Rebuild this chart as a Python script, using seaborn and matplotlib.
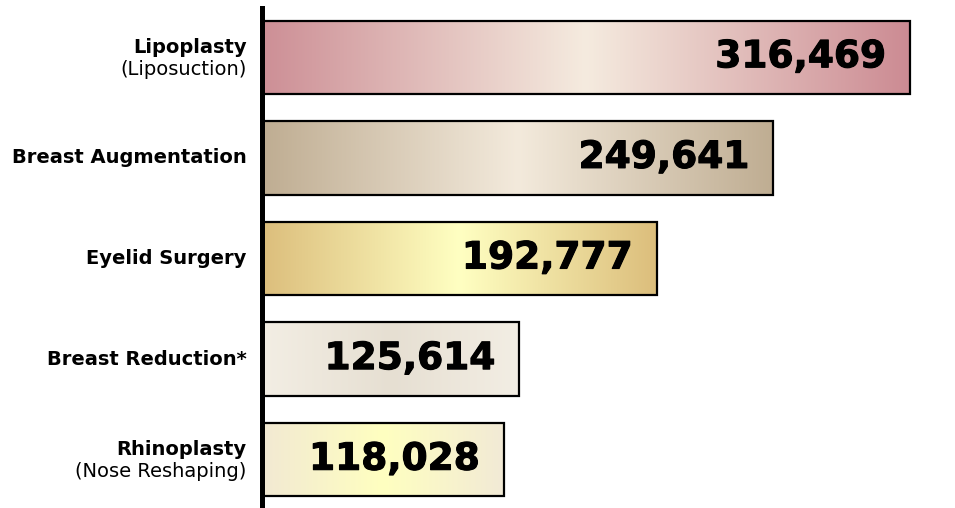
import numpy as np
import matplotlib
matplotlib.use("Agg")
import matplotlib.pyplot as plt
import matplotlib.patheffects as pe
from matplotlib.colors import LinearSegmentedColormap
import seaborn as sns

# ---------- dados ----------
procedures = ["Lipoplasty", "Breast Augmentation", "Eyelid Surgery",
              "Breast Reduction*", "Rhinoplasty"]
subtitles = ["(Liposuction)", "", "", "", "(Nose Reshaping)"]
counts = [316469, 249641, 192777, 125614, 118028]

# gradiente de cada barra: borda -> centro -> borda
bar_colors = [
    ("#cd8f96", "#f5ebdf", "#cc8b93"),
    ("#bfad92", "#f3eadc", "#bfad92"),
    ("#dcbe7c", "#ffffc2", "#dcbe7c"),
    ("#f3eee4", "#e6dfd2", "#f3eee4"),
    ("#f2e9d3", "#ffffc0", "#f2ead6"),
]

sns.set_style("white")
plt.rcParams['font.family'] = ['DejaVu Sans']
plt.rcParams['text.color'] = 'black'

fig = plt.figure(figsize=(9.55, 5.08), dpi=100)
ax = fig.add_axes([262 / 955, 0, 1 - 262 / 955, 500 / 508])

sns.barplot(x=counts, y=procedures, orient="h", color="white",
            edgecolor="black", linewidth=1.6, width=0.73, ax=ax)

xmax = 338500
ax.set_xlim(0, xmax)
ax.set_ylim(4.48, -0.49)

for patch, cols in zip(ax.patches, bar_colors):
    x0, y0 = patch.get_x(), patch.get_y()
    w, h = patch.get_width(), patch.get_height()
    cmap = LinearSegmentedColormap.from_list("g", list(cols))
    grad = np.linspace(0, 1, 256).reshape(1, -1)
    im = ax.imshow(grad, cmap=cmap, aspect="auto", interpolation="bilinear",
                   extent=(x0, x0 + w, y0 + h, y0), zorder=1)
    im.set_clip_path(patch)
    patch.set_facecolor("none")
    patch.set_zorder(2)

ax.set_xlim(0, xmax)
ax.set_ylim(4.48, -0.49)

# valores dentro das barras
stroke = [pe.withStroke(linewidth=0.8, foreground="black")]
for i, v in enumerate(counts):
    ax.annotate(f"{v:,}", xy=(v, i), xytext=(-17, 0), textcoords="offset points",
                ha="right", va="center", fontsize=27, fontweight="bold",
                color="black", zorder=3, path_effects=stroke)

# rótulos das categorias
for i, (name, sub) in enumerate(zip(procedures, subtitles)):
    if sub:
        ax.annotate(name, xy=(0, i), xycoords=("axes fraction", "data"),
                    xytext=(-11, 7), textcoords="offset points",
                    ha="right", va="center", fontsize=14, fontweight="bold",
                    color="black")
        ax.annotate(sub, xy=(0, i), xycoords=("axes fraction", "data"),
                    xytext=(-11, -8.5), textcoords="offset points",
                    ha="right", va="center", fontsize=14, color="black")
    else:
        ax.annotate(name, xy=(0, i), xycoords=("axes fraction", "data"),
                    xytext=(-11, 0), textcoords="offset points",
                    ha="right", va="center", fontsize=14, fontweight="bold",
                    color="black")

ax.set_yticks([])
ax.set_xticks([])
ax.set_xlabel("")
ax.set_ylabel("")
for s in ["top", "right", "bottom"]:
    ax.spines[s].set_visible(False)
ax.spines["left"].set_linewidth(3.6)
ax.spines["left"].set_color("black")
ax.spines["left"].set_zorder(4)

fig.savefig("out.png", dpi=100)
